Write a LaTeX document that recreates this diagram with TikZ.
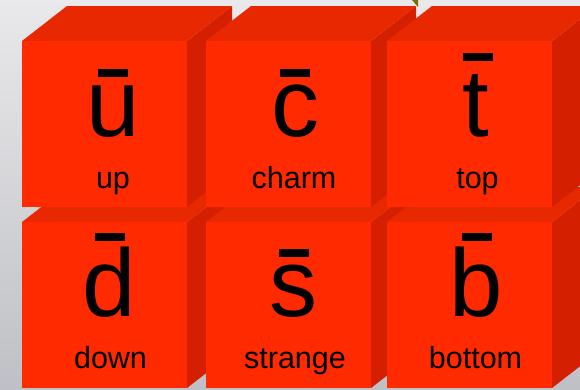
\documentclass[tikz,border=0pt]{standalone}
\usepackage{fontspec}
\setmainfont{Liberation Sans}
\definecolor{cfront}{HTML}{FF2A00}
\definecolor{ctop}{HTML}{E82800}
\definecolor{cside}{HTML}{D42000}
\definecolor{bgtop}{HTML}{E9E9EB}
\definecolor{bgbot}{HTML}{BFC0C5}
\definecolor{olive}{HTML}{7A6E00}
\newcommand\qbar[2]{\ooalign{\hfil\raisebox{#2}{\rule{30pt}{8pt}}\hfil\cr #1\cr}}
\tikzset{
  qcube/.pic={
    \fill[cside] (165,0) -- (210,-35) -- (210,131) -- (165,166) -- cycle;
    \fill[ctop] (0,0) -- (45,-35) -- (210,-35) -- (165,0) -- cycle;
    \fill[cfront] (0,0) rectangle (165,166);
  },
  letter/.style={anchor=base,inner sep=0pt,font=\fontsize{96}{96}\selectfont},
  label/.style={anchor=base,inner sep=0pt,font=\fontsize{30.5}{32}\selectfont}
}
\begin{document}
\begin{tikzpicture}[x=1pt,y=-1pt]
\useasboundingbox (0,0) rectangle (580,389);
\clip (0,0) rectangle (580,389);
\shade[top color=bgtop,bottom color=bgbot] (0,0) rectangle (580,389);
\fill[olive] (412,0) -- (418,0) -- (418,7) -- cycle;
% bottom row
\pic at (22,222) {qcube};
\pic at (206,222) {qcube};
\pic at (387,222) {qcube};
% top row
\pic at (22,41) {qcube};
\pic at (206,41) {qcube};
\pic at (387,41) {qcube};
% letters top row
\node[letter] (u) at (113,136) {\qbar{u}{59pt}};
\node[label] (up) at (113,188) {up};
\node[letter] (c) at (295,136) {\qbar{c}{59pt}};
\node[label] (charm) at (294,188) {charm};
\node[letter] (t) at (477.5,136) {\qbar{t}{75pt}};
\node[label] (top) at (477.5,188) {top};
% letters bottom row
\node[letter] (d) at (109.5,316) {\qbar{d}{75pt}};
\node[label] (down) at (110.5,368) {down};
\node[letter] (s) at (293.5,316) {\qbar{s}{59pt}};
\node[label] (strange) at (295,368) {strange};
\node[letter] (b) at (476.5,316) {\qbar{b}{75pt}};
\node[label] (bottom) at (475.5,368) {bottom};
\end{tikzpicture}
\end{document}
